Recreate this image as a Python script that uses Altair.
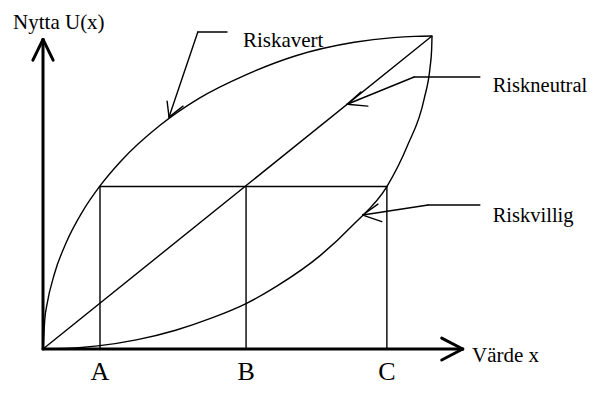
import altair as alt
import pandas as pd

# ---- curves (value x, utility U), both in 0-100 diagram units ----
avert_x = [0, 0.5, 1, 3, 6, 10, 14.65, 20, 30, 40, 52, 65, 80, 90, 95.5, 100]
avert_u = [0, 10.0, 14.1, 24.3, 34.1, 43.6, 52.1, 60, 71.4, 80, 87.5, 93.7, 98, 99.5, 99.9, 100]
villig_x = [0, 10.0, 14.1, 24.3, 34.1, 43.6, 52.2, 60, 71.4, 80, 88.4, 93.7, 98, 99.5, 99.9, 100]
villig_u = [0, 0.5, 1, 3, 6, 10, 14.5, 20, 30, 40, 51.9, 65, 80, 90, 95.5, 100]

# ---- points A, B, C on the value axis and the common utility level ----
abc_labels = ["A", "B", "C"]
abc_x = [14.65, 52.2, 88.4]
level_u = 51.9

# ---- thin straight segments: diagonal, box, leaders and arrowheads ----
thin_x1 = [0, 14.65, 14.65, 52.2, 88.4,
           47.3, 39.8, 31.9, 36.0,
           112.3, 95.4, 81.7, 83.5,
           112.3, 99.0, 86.1, 87.1]
thin_y1 = [0, level_u, 0, 0, 0,
           101.3, 101.3, 79.2, 77.6,
           86.9, 86.9, 82.1, 77.6,
           46.0, 46.0, 46.3, 40.7]
thin_x2 = [100, 88.4, 14.65, 52.2, 88.4,
           39.8, 32.4, 32.4, 32.4,
           95.4, 78.2, 78.2, 78.2,
           99.0, 82.2, 82.2, 82.2]
thin_y2 = [100, level_u, level_u, level_u, level_u,
           101.3, 74.1, 74.1, 74.1,
           86.9, 78.2, 78.2, 78.2,
           46.0, 42.8, 42.8, 42.8]

# ---- thick axis segments with arrowheads ----
axis_x1 = [0, -2.6, 2.6, 0, 102.5, 102.5]
axis_y1 = [0, 92.3, 92.3, 0, 3.5, -3.5]
axis_x2 = [0, 0, 0, 107.9, 107.9, 107.9]
axis_y2 = [98.9, 98.9, 98.9, 0, 0, 0]

# ---- text labels ----
label_text = ["Nytta U(x)", "Riskavert", "Riskneutral", "Riskvillig", "Värde x"]
label_x = [-7.7, 51.4, 115.6, 115.6, 110.3]
label_y = [102.2, 96.5, 82.1, 40.6, -4.2]
label_size = [21, 21, 20.5, 20.5, 21]
abc_label_y = -9.9

SERIF = "'Liberation Serif', 'Times New Roman', 'DejaVu Serif', serif"

xs = alt.Scale(domain=[-9.0, 140.36], nice=False, zero=False)
ys = alt.Scale(domain=[-11.82, 108.95], nice=False, zero=False)

curves = pd.DataFrame({
    "x": avert_x + villig_x,
    "u": avert_u + villig_u,
    "curve": ["Riskavert"] * len(avert_x) + ["Riskvillig"] * len(villig_x),
})
thin = pd.DataFrame({"x1": thin_x1, "y1": thin_y1, "x2": thin_x2, "y2": thin_y2})
axes = pd.DataFrame({"x1": axis_x1, "y1": axis_y1, "x2": axis_x2, "y2": axis_y2})
labels = pd.DataFrame({"t": label_text, "x": label_x, "y": label_y, "s": label_size})
abc = pd.DataFrame({"t": abc_labels, "x": abc_x, "y": [abc_label_y] * 3})

curve_layer = alt.Chart(curves).mark_line(
    color="black", strokeWidth=1.4, interpolate="monotone", clip=False
).encode(
    x=alt.X("x:Q", scale=xs, axis=None),
    y=alt.Y("u:Q", scale=ys, axis=None),
    detail="curve:N",
)

thin_layer = alt.Chart(thin).mark_rule(color="black", strokeWidth=1.4, strokeCap="round").encode(
    x=alt.X("x1:Q", scale=xs, axis=None), y=alt.Y("y1:Q", scale=ys, axis=None),
    x2="x2:Q", y2="y2:Q",
)

axis_layer = alt.Chart(axes).mark_rule(color="black", strokeWidth=3, strokeCap="round").encode(
    x=alt.X("x1:Q", scale=xs, axis=None), y=alt.Y("y1:Q", scale=ys, axis=None),
    x2="x2:Q", y2="y2:Q",
)

text_layer = alt.Chart(labels).mark_text(
    font=SERIF, align="left", baseline="alphabetic", color="black"
).encode(
    x=alt.X("x:Q", scale=xs, axis=None), y=alt.Y("y:Q", scale=ys, axis=None), text="t:N",
    size=alt.Size("s:Q", scale=None, legend=None),
)

abc_layer = alt.Chart(abc).mark_text(
    font=SERIF, fontSize=26, align="center", baseline="alphabetic", color="black"
).encode(
    x=alt.X("x:Q", scale=xs, axis=None), y=alt.Y("y:Q", scale=ys, axis=None), text="t:N"
)

chart = alt.layer(curve_layer, thin_layer, axis_layer, text_layer, abc_layer).properties(
    width=581, height=378, padding=0, autosize=alt.AutoSizeParams(type="none")
).configure_view(stroke=None)

chart.save("out.html", embed_options={"renderer": "svg", "actions": False})
